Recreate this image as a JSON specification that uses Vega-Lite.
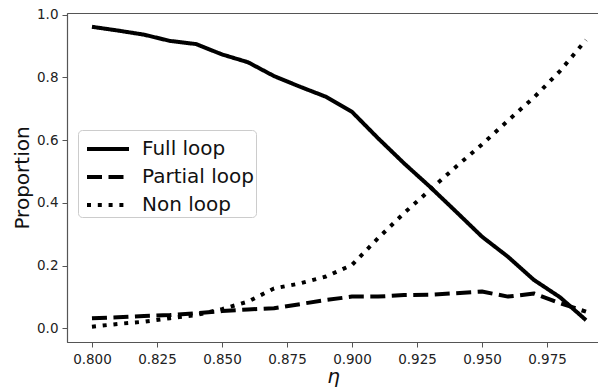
{
  "$schema": "https://vega.github.io/schema/vega-lite/v6.json",
  "autosize": "none",
  "width": 532,
  "height": 329,
  "padding": {"left": 67, "top": 13, "right": 0, "bottom": 48},
  "background": "white",
  "config": {
    "font": "DejaVu Sans",
    "view": {"stroke": "#555", "strokeWidth": 1},
    "axis": {"domainColor": "#555", "tickColor": "#555", "labelColor": "#222", "titleColor": "#111", "labelFont": "DejaVu Sans", "titleFont": "DejaVu Sans", "grid": false, "titleFontWeight": "normal"}
  },
  "data": {"values": [
    {"eta": 0.80, "series": "Full loop", "p": 0.961},
    {"eta": 0.81, "series": "Full loop", "p": 0.949},
    {"eta": 0.82, "series": "Full loop", "p": 0.936},
    {"eta": 0.83, "series": "Full loop", "p": 0.916},
    {"eta": 0.84, "series": "Full loop", "p": 0.906},
    {"eta": 0.85, "series": "Full loop", "p": 0.873},
    {"eta": 0.86, "series": "Full loop", "p": 0.848},
    {"eta": 0.87, "series": "Full loop", "p": 0.804},
    {"eta": 0.88, "series": "Full loop", "p": 0.770},
    {"eta": 0.89, "series": "Full loop", "p": 0.738},
    {"eta": 0.90, "series": "Full loop", "p": 0.690},
    {"eta": 0.91, "series": "Full loop", "p": 0.606},
    {"eta": 0.92, "series": "Full loop", "p": 0.526},
    {"eta": 0.93, "series": "Full loop", "p": 0.451},
    {"eta": 0.94, "series": "Full loop", "p": 0.372},
    {"eta": 0.95, "series": "Full loop", "p": 0.292},
    {"eta": 0.96, "series": "Full loop", "p": 0.228},
    {"eta": 0.97, "series": "Full loop", "p": 0.154},
    {"eta": 0.98, "series": "Full loop", "p": 0.099},
    {"eta": 0.99, "series": "Full loop", "p": 0.026},
    {"eta": 0.80, "series": "Partial loop", "p": 0.032},
    {"eta": 0.81, "series": "Partial loop", "p": 0.035},
    {"eta": 0.82, "series": "Partial loop", "p": 0.039},
    {"eta": 0.83, "series": "Partial loop", "p": 0.042},
    {"eta": 0.84, "series": "Partial loop", "p": 0.048},
    {"eta": 0.85, "series": "Partial loop", "p": 0.055},
    {"eta": 0.86, "series": "Partial loop", "p": 0.060},
    {"eta": 0.87, "series": "Partial loop", "p": 0.064},
    {"eta": 0.88, "series": "Partial loop", "p": 0.077},
    {"eta": 0.89, "series": "Partial loop", "p": 0.090},
    {"eta": 0.90, "series": "Partial loop", "p": 0.101},
    {"eta": 0.91, "series": "Partial loop", "p": 0.101},
    {"eta": 0.92, "series": "Partial loop", "p": 0.106},
    {"eta": 0.93, "series": "Partial loop", "p": 0.107},
    {"eta": 0.94, "series": "Partial loop", "p": 0.112},
    {"eta": 0.95, "series": "Partial loop", "p": 0.117},
    {"eta": 0.96, "series": "Partial loop", "p": 0.101},
    {"eta": 0.97, "series": "Partial loop", "p": 0.111},
    {"eta": 0.98, "series": "Partial loop", "p": 0.080},
    {"eta": 0.99, "series": "Partial loop", "p": 0.053},
    {"eta": 0.80, "series": "Non loop", "p": 0.005},
    {"eta": 0.81, "series": "Non loop", "p": 0.014},
    {"eta": 0.82, "series": "Non loop", "p": 0.021},
    {"eta": 0.83, "series": "Non loop", "p": 0.032},
    {"eta": 0.84, "series": "Non loop", "p": 0.042},
    {"eta": 0.85, "series": "Non loop", "p": 0.061},
    {"eta": 0.86, "series": "Non loop", "p": 0.085},
    {"eta": 0.87, "series": "Non loop", "p": 0.127},
    {"eta": 0.88, "series": "Non loop", "p": 0.143},
    {"eta": 0.89, "series": "Non loop", "p": 0.165},
    {"eta": 0.90, "series": "Non loop", "p": 0.202},
    {"eta": 0.91, "series": "Non loop", "p": 0.287},
    {"eta": 0.92, "series": "Non loop", "p": 0.367},
    {"eta": 0.93, "series": "Non loop", "p": 0.441},
    {"eta": 0.94, "series": "Non loop", "p": 0.515},
    {"eta": 0.95, "series": "Non loop", "p": 0.586},
    {"eta": 0.96, "series": "Non loop", "p": 0.662},
    {"eta": 0.97, "series": "Non loop", "p": 0.736},
    {"eta": 0.98, "series": "Non loop", "p": 0.820},
    {"eta": 0.99, "series": "Non loop", "p": 0.919}
  ]},
  "mark": {"type": "line", "color": "black", "strokeWidth": 4, "strokeCap": "butt", "strokeJoin": "round", "clip": true},
  "encoding": {
    "x": {
      "field": "eta", "type": "quantitative",
      "scale": {"domain": [0.7904, 0.9950], "nice": false, "zero": false},
      "axis": {"values": [0.8, 0.825, 0.85, 0.875, 0.9, 0.925, 0.95, 0.975], "format": ".3f", "labelFontSize": 13.5, "tickSize": 5, "labelPadding": 5, "title": "η", "titleFontSize": 20, "titleFontStyle": "italic", "titlePadding": 1, "domainWidth": 1.2}
    },
    "y": {
      "field": "p", "type": "quantitative",
      "scale": {"domain": [-0.0437, 1.005], "nice": false, "zero": false},
      "axis": {"values": [0, 0.2, 0.4, 0.6, 0.8, 1.0], "format": ".1f", "labelFontSize": 13.5, "tickSize": 5, "labelPadding": 4, "title": "Proportion", "titleFontSize": 20, "titlePadding": 4, "domainWidth": 1.2}
    },
    "strokeDash": {
      "field": "series", "type": "nominal",
      "scale": {"domain": ["Full loop", "Partial loop", "Non loop"], "range": [[1, 0], [15, 6.5], [4, 6.8]]},
      "legend": {
        "title": null, "orient": "none", "legendX": 11, "legendY": 117,
        "symbolType": "M-1.4,0H1.4", "symbolSize": 900, "symbolStrokeWidth": 4, "symbolStrokeColor": "black", "symbolFillColor": "transparent", "symbolOffset": 11,
        "labelFontSize": 20, "labelColor": "#111", "labelOffset": 17,
        "rowPadding": 1, "padding": 2, "strokeColor": "#ccc", "fillColor": "white", "cornerRadius": 4
      }
    }
  }
}
